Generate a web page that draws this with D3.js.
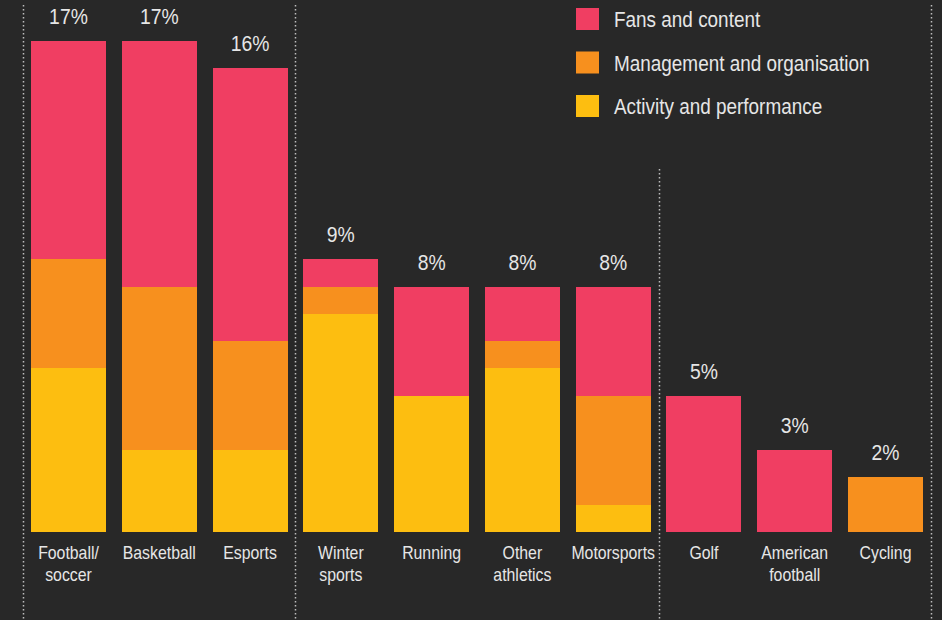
<!DOCTYPE html>
<html>
<head>
<meta charset="utf-8">
<script src="https://cdn.jsdelivr.net/npm/d3@7"></script>
<style>
  html, body { margin: 0; padding: 0; background: #282828; }
  svg { display: block; }
  text { font-family: "Liberation Sans", Arial, sans-serif; fill: #e6e6e6; }
</style>
</head>
<body>
<div id="chart"></div>
<script>
'use strict';

// categories (label lines) and the rounded share printed above each bar
const sports = ['Football/\nsoccer', 'Basketball', 'Esports', 'Winter\nsports', 'Running',
  'Other\nathletics', 'Motorsports', 'Golf', 'American\nfootball', 'Cycling'];
const shareLabels = ['17%', '17%', '16%', '9%', '8%', '8%', '8%', '5%', '3%', '2%'];

// stacked counts per segment
const activity   = [6, 3, 3, 8, 5, 6, 1, 0, 0, 0];
const management = [4, 6, 4, 1, 0, 1, 4, 0, 0, 2];
const fans       = [8, 9, 10, 1, 4, 2, 4, 5, 3, 0];

const seriesNames = ['Fans and content', 'Management and organisation', 'Activity and performance'];
const seriesColors = ['#f03e62', '#f7901e', '#fdbe10'];

// group dividers sit before these category indexes (and after the last one)
const dividerStarts = [0, 3, 7];

const width = 942, height = 620;
const baseline = 532;
const narrow = 0.88; // squeeze text horizontally to mimic the condensed face

const svg = d3.select('#chart').append('svg')
  .attr('width', width)
  .attr('height', height);

const rows = sports.map((s, i) => ({
  sport: s, activity: activity[i], management: management[i], fans: fans[i], label: shareLabels[i]
}));

const x = d3.scaleBand()
  .domain(sports)
  .range([31, 923])
  .paddingInner(0.174)
  .paddingOuter(0);

const y = d3.scaleLinear()
  .domain([0, 18])
  .range([baseline, 41]);

const color = d3.scaleOrdinal()
  .domain(['fans', 'management', 'activity'])
  .range(seriesColors);

// stack from bottom: activity, management, fans
const stack = d3.stack().keys(['activity', 'management', 'fans']);
const layers = stack(rows);

// dotted dividers
const gap = x.step() - x.bandwidth();
const dividerX = dividerStarts.map(i => x(sports[i]) - gap / 2)
  .concat([x(sports[sports.length - 1]) + x.bandwidth() + gap / 2]);
const dividerTop = [5, 5, 169, 5];

svg.append('g').selectAll('line')
  .data(dividerX)
  .enter()
  .append('line')
  .attr('x1', d => Math.round(d) + 0.5)
  .attr('x2', d => Math.round(d) + 0.5)
  .attr('y1', (d, i) => dividerTop[i])
  .attr('y2', height)
  .style('stroke', '#bdbdbd')
  .style('stroke-width', 1.5)
  .style('stroke-dasharray', '1.5,2.5');

// bars
svg.append('g').selectAll('g')
  .data(layers)
  .enter()
  .append('g')
  .style('fill', d => color(d.key))
  .selectAll('rect')
  .data(d => d)
  .enter()
  .append('rect')
  .attr('x', d => x(d.data.sport))
  .attr('y', d => y(d[1]))
  .attr('width', x.bandwidth())
  .attr('height', d => y(d[0]) - y(d[1]))
  .attr('shape-rendering', 'crispEdges');

// share labels above the bars
svg.append('g').selectAll('text')
  .data(rows)
  .enter()
  .append('text')
  .attr('transform', d => 'translate(' + (x(d.sport) + x.bandwidth() / 2) + ','
    + (y(d.activity + d.management + d.fans) - 17) + ') scale(' + narrow + ',1)')
  .attr('text-anchor', 'middle')
  .style('font-size', '22px')
  .text(d => d.label);

// category labels (x axis without line/ticks)
const xAxis = svg.append('g')
  .attr('transform', 'translate(0,' + baseline + ')')
  .call(d3.axisBottom(x).tickSize(0).tickFormat(''));
xAxis.select('.domain').remove();

xAxis.selectAll('.tick')
  .append('text')
  .attr('text-anchor', 'middle')
  .attr('transform', 'scale(' + narrow + ',1)')
  .style('font-size', '18px')
  .selectAll('tspan')
  .data(d => d.split('\n'))
  .enter()
  .append('tspan')
  .attr('x', 0)
  .attr('y', (d, i) => 27 + i * 22)
  .text(d => d);

// legend
const legend = svg.append('g')
  .attr('transform', 'translate(576,8)');

const items = legend.selectAll('g')
  .data(seriesNames)
  .enter()
  .append('g')
  .attr('transform', (d, i) => 'translate(0,' + i * 43.5 + ')');

items.append('rect')
  .attr('width', 23)
  .attr('height', 22)
  .style('fill', (d, i) => seriesColors[i]);

items.append('text')
  .attr('transform', 'translate(38,19) scale(' + narrow + ',1)')
  .style('font-size', '21.5px')
  .text(d => d);
</script>
</body>
</html>
